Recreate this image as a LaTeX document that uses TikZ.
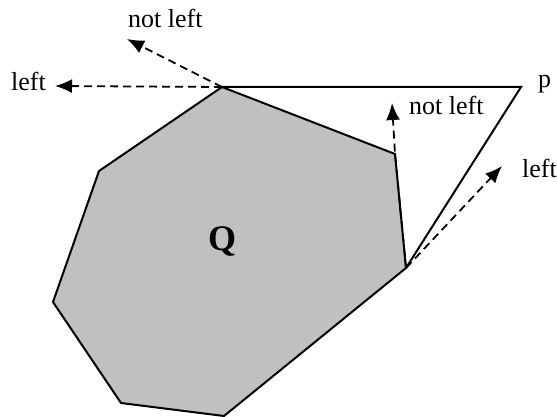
\documentclass[tikz,border=0pt]{standalone}
\usepackage{fontspec}
\setmainfont{Liberation Serif}
\usetikzlibrary{arrows.meta}
\begin{document}
\begin{tikzpicture}[x=1pt,y=-1pt,
  edge/.style={line width=2pt, line join=miter},
  dasharrow/.style={line width=1.8pt, dash pattern=on 8pt off 5pt, -{Latex[length=17pt,width=14pt]}},
  lbl/.style={anchor=base west, inner sep=0pt, font=\fontsize{26}{28}\selectfont}]
\useasboundingbox (0,0) rectangle (557,417);
% polygon vertices
\coordinate (vt) at (222,87);
\coordinate (vur) at (395,154);
\coordinate (vr) at (406,268);
\coordinate (vb) at (224,416);
\coordinate (vbl) at (121,403);
\coordinate (vl) at (53,302);
\coordinate (vul) at (99,171);
\coordinate (p) at (521,87);
\fill[fill={rgb,255:red,192;green,192;blue,192}] (vt) -- (vur) -- (vr) -- (vb) -- (vbl) -- (vl) -- (vul) -- cycle;
\draw[edge] (vt) -- (vur) -- (vr) -- (vb) -- (vbl) -- (vl) -- (vul) -- cycle;
\draw[edge] (vt) -- (p) -- (vr);
% arrow ends
\coordinate (a1) at (55,86);
\coordinate (a2) at (127,39);
\coordinate (a3) at (392,103);
\coordinate (a4) at (502,166);
\draw[dasharrow] (vt) -- (a1);
\draw[dasharrow] (vt) -- (a2);
\draw[dasharrow] (vr) -- (vur) -- (a3);
\draw[dasharrow] (vr) -- (a4);
% labels
\node[lbl] (l1) at (11,91) {left};
\node[lbl] (l2) at (128,28) {not left};
\node[lbl] (l3) at (409,115) {not left};
\node[lbl] (l4) at (522,178) {left};
\node[lbl] (lp) at (538,88) {p};
\node[anchor=base, inner sep=0pt, font=\fontsize{36}{40}\selectfont\bfseries] (q) at (222,250) {Q};
\end{tikzpicture}
\end{document}
